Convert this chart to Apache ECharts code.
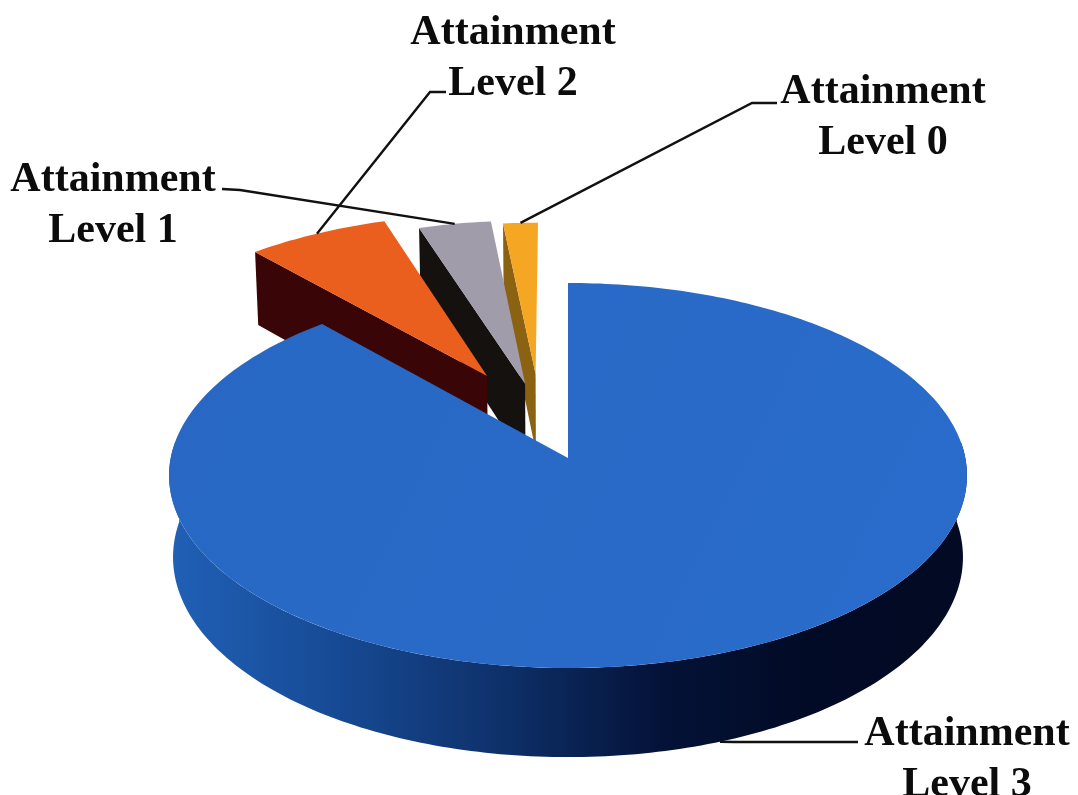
<!DOCTYPE html>
<html>
<head>
<meta charset="utf-8">
<style>
html,body{margin:0;padding:0;background:#fff;}
#chart{width:1078px;height:795px;}
</style>
<script src="https://cdn.jsdelivr.net/npm/echarts@6/dist/echarts.min.js"></script>
</head>
<body>
<div id="chart"></div>
<script>
// drawn back to front, angles run counter-clockwise from the top of the pie
const levelNames = ['Attainment\nLevel 0', 'Attainment\nLevel 1', 'Attainment\nLevel 2', 'Attainment\nLevel 3'];
const levelValues = [1.7, 3.3, 6.5, 88.5];

const topColors = ['#f5a623', '#a19ca9', '#ea5f1d', null];
const sideColors = ['#8a6212', '#14110f', '#3a0506', null];

// how far each slice is pulled out of the pie, in pie radii
const explodeX = [-0.085, -0.112, -0.212, 0];
const explodeY = [0.458, 0.4025, 0.447, 0];
const sliceRadius = [0.93, 1, 1, 1];

// label centre and the knee of its leader line
const labelX = [883, 113, 513, 967];
const labelY = [118, 206, 59, 760];
const kneeX = [[777, 752], [222, 240], [446, 430], [858, 735]];
const kneeY = [[103, 103], [189, 190], [92, 92], [742, 742]];

// perspective of the pie
const cx = 568, cy = 458, rx = 397.3, ry = 190.9, k = 0.0909, depth = 81, lowScale = 0.99;

function project(px, py, low) {
    let w = 1 + k * py;
    let x = cx + (low ? lowScale : 1) * rx * px / w;
    let y = cy - ry * py / w + (low ? depth / w : 0);
    return [x, y];
}

function rimPoint(i, deg, low) {
    let a = deg * Math.PI / 180;
    let r = sliceRadius[i];
    return project(explodeX[i] - r * Math.sin(a), explodeY[i] + r * Math.cos(a), low);
}

function arcPoints(i, from, to, low) {
    let pts = [];
    let n = Math.max(2, Math.ceil(Math.abs(to - from)));
    for (let j = 0; j <= n; j++) {
        pts.push(rimPoint(i, from + (to - from) * j / n, low));
    }
    return pts;
}

const total = levelValues.reduce((a, b) => a + b, 0);
const startAngle = [], endAngle = [];
let acc = 0;
levelValues.forEach(function (v, i) {
    startAngle[i] = acc;
    acc += v / total * 360;
    endAngle[i] = acc;
});

function renderSlice(params, api) {
    let i = params.dataIndex;
    let from = startAngle[i], to = endAngle[i];
    let tip = project(explodeX[i], explodeY[i], false);
    let tipLow = project(explodeX[i], explodeY[i], true);
    let children = [];

    if (i === levelValues.length - 1) {
        // big slice: only the front wall shows
        let wall = arcPoints(i, 85, 275, false).concat(arcPoints(i, 275, 85, true));
        children.push({
            type: 'polygon',
            shape: { points: wall },
            style: {
                fill: {
                    type: 'linear', x: 170, y: 0, x2: 965, y2: 0, global: true,
                    colorStops: [
                        { offset: 0, color: '#2060b6' },
                        { offset: 0.2, color: '#174b96' },
                        { offset: 0.42, color: '#0e3069' },
                        { offset: 0.62, color: '#041237' },
                        { offset: 0.8, color: '#020b26' },
                        { offset: 1, color: '#020a24' }
                    ]
                }
            }
        });
        children.push({
            type: 'polygon',
            shape: { points: [tip].concat(arcPoints(i, from, to, false)) },
            style: {
                fill: {
                    type: 'linear', x: 170, y: 283, x2: 965, y2: 668, global: true,
                    colorStops: [
                        { offset: 0, color: '#2868c4' },
                        { offset: 1, color: '#2a6ccb' }
                    ]
                }
            }
        });
    } else {
        // cut face on the left of the slice, then its top
        children.push({
            type: 'polygon',
            shape: { points: [tip, rimPoint(i, to, false), rimPoint(i, to, true), tipLow] },
            style: { fill: sideColors[i] }
        });
        children.push({
            type: 'polygon',
            shape: { points: [tip].concat(arcPoints(i, from, to, false)) },
            style: { fill: topColors[i] }
        });
    }

    // leader runs from the label to the middle of the slice rim
    let last = i === levelValues.length - 1;
    let end = rimPoint(i, (from + to) / 2, last);
    children.push({
        type: 'polyline',
        shape: { points: [[kneeX[i][0], kneeY[i][0]], [kneeX[i][1], kneeY[i][1]], end] },
        style: { fill: null, stroke: '#111', lineWidth: 2.4 }
    });
    children.push({
        type: 'text',
        style: {
            text: levelNames[i],
            x: labelX[i],
            y: labelY[i],
            align: 'center',
            verticalAlign: 'middle',
            fontFamily: '"Liberation Serif"',
            fontWeight: 'bold',
            fontSize: 42,
            lineHeight: 51,
            fill: '#0c0c0c'
        }
    });
    return { type: 'group', children: children };
}

let myChart = echarts.init(document.getElementById('chart'));
let option = {
    backgroundColor: '#fff',
    animation: false,
    series: [{
        type: 'custom',
        coordinateSystem: 'none',
        renderItem: renderSlice,
        data: levelValues
    }]
};
myChart.setOption(option);
</script>
</body>
</html>
